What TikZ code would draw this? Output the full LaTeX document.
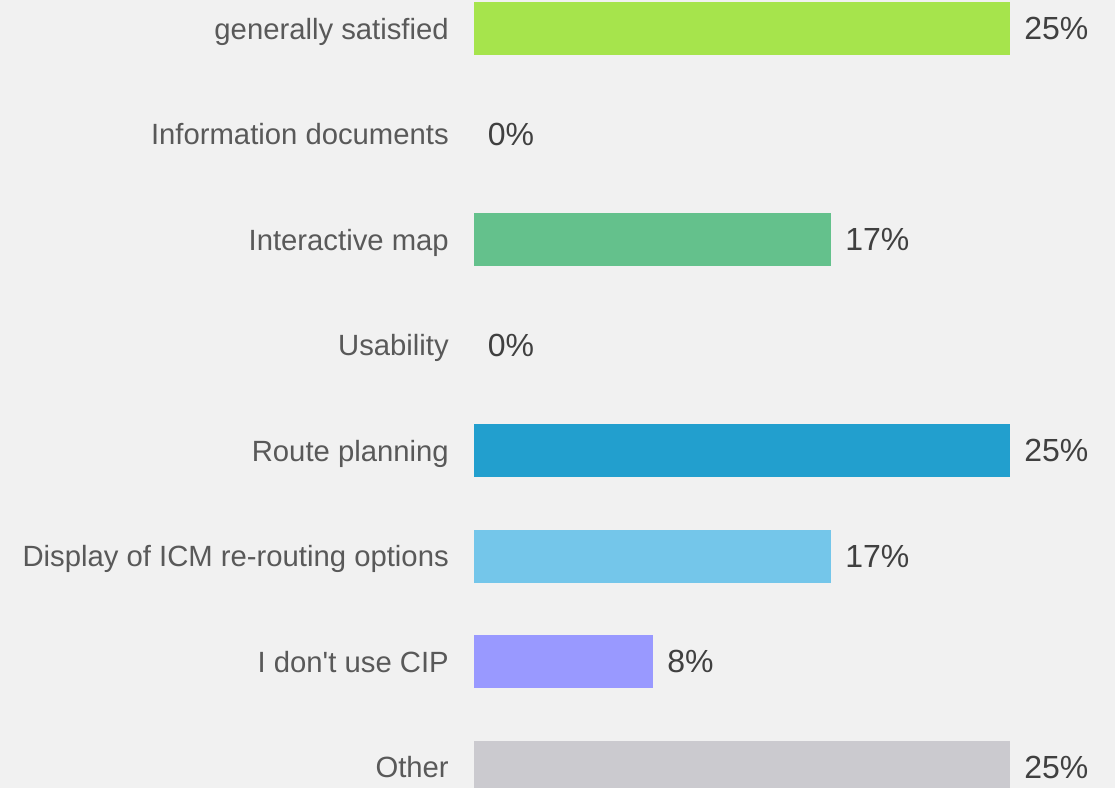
\documentclass[tikz,border=0pt]{standalone}
\usepackage{fontspec}
\setmainfont{Liberation Sans}
\usepackage{xcolor}
\usepackage{tikz}
\usetikzlibrary{positioning}

\definecolor{bggray}{HTML}{F1F1F1}
\definecolor{labelgray}{HTML}{595959}
\definecolor{pctgray}{HTML}{404040}
\definecolor{barlime}{HTML}{A6E44C}
\definecolor{bargreen}{HTML}{64C18C}
\definecolor{barblue}{HTML}{229FCE}
\definecolor{barsky}{HTML}{74C6EA}
\definecolor{barviolet}{HTML}{9999FF}
\definecolor{barsilver}{HTML}{CBCACF}

\begin{document}
\begin{tikzpicture}[x=0.75pt, y=-0.75pt, node distance=10.2pt]

	\tikzstyle{bar}=[anchor=west, inner sep=0pt, minimum height=39.75pt]
	\tikzstyle{cat}=[anchor=east, inner sep=0pt, text=labelgray, font=\fontsize{21.95}{26}\selectfont, text height=15.8pt, text depth=0pt]
	\tikzstyle{pct}=[inner sep=0pt, text=pctgray, font=\fontsize{24}{28}\selectfont, text height=17.2pt, text depth=0pt]

	\fill[bggray] (0,0) rectangle (1115,788);
	\useasboundingbox (0,0) rectangle (1115,788);

	% bars
	\node[bar, fill=barlime,   minimum width=402pt]    (b1) at (474,28.5) {};
	\coordinate (b2) at (474,134);
	\node[bar, fill=bargreen,  minimum width=267.75pt] (b3) at (474,239.5) {};
	\coordinate (b4) at (474,345);
	\node[bar, fill=barblue,   minimum width=402pt]    (b5) at (474,450.5) {};
	\node[bar, fill=barsky,    minimum width=267.75pt] (b6) at (474,556) {};
	\node[bar, fill=barviolet, minimum width=134.25pt] (b7) at (474,661.5) {};
	\node[bar, fill=barsilver, minimum width=402pt]    (b8) at (474,767) {};

	% categories
	\node[cat] (c1) at (449,28.5)  {generally satisfied};
	\node[cat] (c2) at (449,134)   {Information documents};
	\node[cat] (c3) at (449,239.5) {Interactive map};
	\node[cat] (c4) at (449,345)   {Usability};
	\node[cat] (c5) at (449,450.5) {Route planning};
	\node[cat] (c6) at (449,556)   {Display of ICM re-routing options};
	\node[cat] (c7) at (449,661.5) {I don\textquotesingle t use CIP};
	\node[cat] (c8) at (449,767)   {Other};

	% percentages
	\node[pct, right=of b1] (p1) {25\%};
	\node[pct, right=of b2] (p2) {0\%};
	\node[pct, right=of b3] (p3) {17\%};
	\node[pct, right=of b4] (p4) {0\%};
	\node[pct, right=of b5] (p5) {25\%};
	\node[pct, right=of b6] (p6) {17\%};
	\node[pct, right=of b7] (p7) {8\%};
	\node[pct, right=of b8] (p8) {25\%};

\end{tikzpicture}
\end{document}
